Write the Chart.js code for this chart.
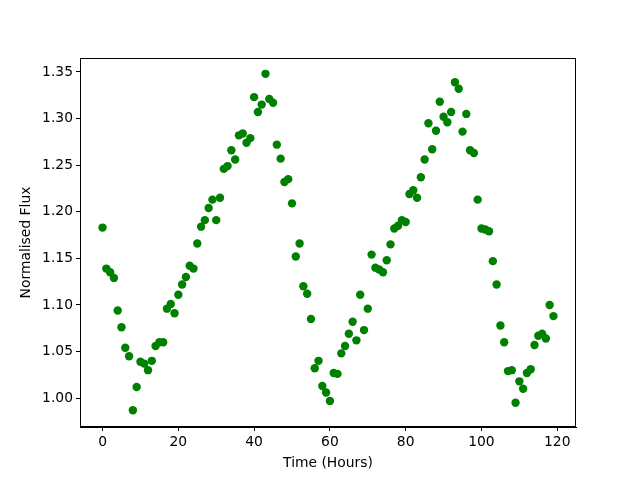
<!DOCTYPE html>
<html>
<head>
<meta charset="utf-8">
<script src="https://cdn.jsdelivr.net/npm/chart.js@4"></script>
<style>
  html, body { margin: 0; padding: 0; background: #fff; }
  canvas { display: block; }
</style>
</head>
<body>
<canvas id="grafico" width="640" height="480"></canvas>
<script>
// Horas de observação (uma medida por hora)
const horas = [];
for (let h = 0; h < 120; h++) horas.push(h);

// Fluxo normalizado
const fluxo = [
  1.183, 1.139, 1.135, 1.129, 1.094, 1.076, 1.054, 1.045, 0.987, 1.012,
  1.039, 1.037, 1.030, 1.040, 1.056, 1.060, 1.060, 1.096, 1.101, 1.091,
  1.111, 1.122, 1.130, 1.142, 1.139, 1.166, 1.184, 1.191, 1.204, 1.213,
  1.191, 1.215, 1.246, 1.249, 1.266, 1.256, 1.282, 1.284, 1.274, 1.279,
  1.323, 1.307, 1.315, 1.348, 1.321, 1.317, 1.272, 1.257, 1.232, 1.235,
  1.209, 1.152, 1.166, 1.120, 1.112, 1.085, 1.032, 1.040, 1.013, 1.006,
  0.997, 1.027, 1.026, 1.048, 1.056, 1.069, 1.082, 1.062, 1.111, 1.073,
  1.096, 1.154, 1.140, 1.138, 1.135, 1.148, 1.165, 1.182, 1.185, 1.191,
  1.189, 1.219, 1.223, 1.215, 1.237, 1.256, 1.295, 1.267, 1.287, 1.318,
  1.302, 1.296, 1.307, 1.339, 1.332, 1.286, 1.305, 1.266, 1.263, 1.213,
  1.182, 1.181, 1.179, 1.147, 1.122, 1.078, 1.060, 1.029, 1.030, 0.995,
  1.018, 1.010, 1.027, 1.031, 1.057, 1.067, 1.069, 1.064, 1.100, 1.088
];

const ticksX = [0, 20, 40, 60, 80, 100, 120];
const ticksY = [1.00, 1.05, 1.10, 1.15, 1.20, 1.25, 1.30, 1.35];

const fonte = { family: 'DejaVu Sans', size: 13.89 };

// moldura completa (topo e direita também)
const moldura = {
  id: 'moldura',
  afterDraw(chart) {
    const a = chart.chartArea;
    const ctx = chart.ctx;
    ctx.save();
    ctx.strokeStyle = '#000';
    ctx.lineWidth = 1;
    ctx.strokeRect(Math.round(a.left) + 0.5, Math.round(a.top) + 0.5,
      Math.round(a.right - a.left) - 1, Math.round(a.bottom - a.top) - 1);
    ctx.restore();
  }
};

const ctx = document.getElementById('grafico').getContext('2d');
new Chart(ctx, {
  type: 'scatter',
  data: {
    datasets: [{
      data: horas.map((h, i) => ({ x: h, y: fluxo[i] })),
      backgroundColor: '#008000',
      borderColor: '#008000',
      borderWidth: 0,
      pointRadius: 4.2,
      pointHoverRadius: 4.2
    }]
  },
  options: {
    responsive: false,
    animation: false,
    layout: { padding: { left: 0, right: 64, top: 58, bottom: 0 } },
    plugins: { legend: { display: false }, tooltip: { enabled: false } },
    scales: {
      x: {
        type: 'linear',
        min: -5.95,
        max: 124.95,
        afterBuildTicks: s => { s.ticks = ticksX.map(v => ({ value: v })); },
        afterFit: s => { s.height = 53; },
        ticks: { color: '#000', font: fonte, padding: 3, maxRotation: 0, callback: v => String(v) },
        grid: { drawOnChartArea: false, drawTicks: true, tickLength: 4, tickColor: '#000' },
        border: { display: true, color: '#000', width: 1 },
        title: { display: true, text: 'Time (Hours)', color: '#000', font: fonte, padding: { top: 0, bottom: 8 } }
      },
      y: {
        type: 'linear',
        min: 0.969,
        max: 1.365,
        afterBuildTicks: s => { s.ticks = ticksY.map(v => ({ value: v })); },
        afterFit: s => { s.width = 80; },
        ticks: { color: '#000', font: fonte, padding: 3, callback: v => v.toFixed(2) },
        grid: { drawOnChartArea: false, drawTicks: true, tickLength: 4, tickColor: '#000' },
        border: { display: true, color: '#000', width: 1 },
        title: { display: true, text: 'Normalised Flux', color: '#000', font: fonte, padding: { top: 18, bottom: 0 } }
      }
    }
  },
  plugins: [moldura]
});
</script>
</body>
</html>
